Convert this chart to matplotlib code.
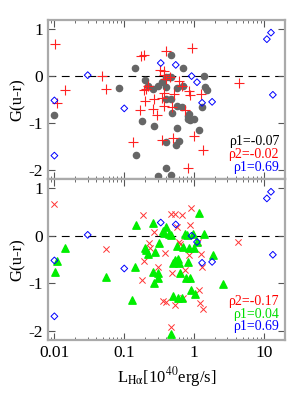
import numpy as np
import matplotlib
matplotlib.use('Agg')
import matplotlib.pyplot as plt

plt.rcParams['font.family'] = ['Liberation Serif', 'DejaVu Serif']
plt.rcParams['mathtext.fontset'] = 'stix'

# blue diamonds (same sample in both panels)
blue_x = [0.01, 0.01, 0.030, 0.10, 0.333, 0.546, 0.92, 1.10, 1.30, 1.81, 11.0, 12.6, 13.4]
blue_y = [-0.52, -1.70, 0.02, -0.69, 0.28, 0.24, 0.0, -0.13, -0.57, -0.55, 0.79, 0.93, -0.40]

# gray dots, top panel
gray_x = [0.01, 0.085, 0.143, 0.178, 0.195, 0.148, 0.217, 0.262, 0.267, 0.309, 0.309,
          0.352, 0.393, 0.393, 0.40, 0.39, 0.40, 0.43, 0.468, 0.468, 0.468, 0.468, 0.49,
          0.546, 0.565, 0.565, 0.565, 0.60, 0.665, 0.69, 0.70, 0.81, 0.83, 0.86, 0.85,
          1.01, 1.17, 1.28, 1.37, 1.43, 1.54]
gray_y = [-0.84, -0.26, 0.18, -0.96, -0.09, -1.68, -0.21, -0.28, -1.06, -0.21, -2.13,
          -0.13, -0.23, -0.48, -0.01, -1.96, -1.41, -0.01, 0.45, -0.02, -0.49, -2.12, -0.79,
          -1.48, -1.11, -0.26, -0.63, -1.39, -0.65, 0.18, -0.22, -0.86, -0.92, -0.94, -0.82,
          -0.91, -1.16, -0.66, 0.01, -0.23, -0.29]

# red plus, top panel
plus_x = [0.0102, 0.011, 0.0142, 0.048, 0.054, 0.132, 0.169, 0.172, 0.193, 0.195, 0.193,
          0.208, 0.217, 0.256, 0.27, 0.299, 0.326, 0.352, 0.352, 0.37, 0.37, 0.39, 0.40,
          0.37, 0.37, 0.45, 0.49, 0.506, 0.52, 0.60, 0.66, 0.73, 0.81, 0.84, 0.86, 0.93,
          1.01, 1.25, 1.36, 4.46]
plus_y = [0.68, -0.58, -0.29, 0.0, -0.28, -1.41, -0.72, 0.43, 0.45, -0.53, -0.29,
          -0.28, -0.22, -0.70, -0.48, -0.84, 0.13, -1.37, -0.47, 0.11, 0.03, -0.06, 0.54,
          -0.63, -0.36, -0.02, -0.65, -1.33, -0.38, -0.10, -0.21, -0.72, -1.96, -0.31, -0.40, 0.60,
          -1.27, -0.38, -1.57, -0.15]

# red crosses, bottom panel
cross_x = [0.01, 0.054, 0.187, 0.193, 0.18, 0.228, 0.237, 0.267, 0.30, 0.38, 0.355, 0.40,
           0.468, 0.53, 0.46, 0.49, 0.53, 0.565, 0.61, 0.63, 0.67, 0.70, 0.75, 0.86, 0.85,
           0.91, 1.13, 1.17, 1.2, 1.25, 1.30, 1.36, 4.3]
cross_y = [0.67, -0.28, 0.44, -0.53, -0.94, -0.15, -0.26, 0.09, -0.65, -0.37, -1.37, -1.39,
           0.46, 0.46, -1.92, -0.79, -1.46, 0.18, -0.12, -0.17, 0.44, -1.32, -0.72, 0.23, -0.40,
           0.58, -0.14, -1.14, -1.42, -0.38, -0.66, -1.55, -0.14]

# green triangles, bottom panel
tri_x = [0.0102, 0.011, 0.0142, 0.055, 0.13, 0.143, 0.145, 0.195, 0.205, 0.22, 0.262,
         0.262, 0.267, 0.28, 0.30, 0.30, 0.31, 0.36, 0.37, 0.40, 0.43, 0.468, 0.506, 0.50,
         0.53, 0.565, 0.58, 0.59, 0.61, 0.63, 0.665, 0.69, 0.73, 0.76, 0.78, 0.81, 0.84,
         0.86, 0.89, 0.95, 1.01, 1.03, 1.10, 1.17, 1.37, 1.89, 2.6, 0.46]
tri_y = [-0.77, -0.53, -0.26, -0.86, -1.35, -0.66, 0.23, -0.26, -0.30, -0.38, 0.28,
         -0.77, -1.0, -0.35, -0.89, -0.79, -0.15, 0.11, 0.07, 0.18, 0.04, 0.01, -1.27, -0.58,
         -0.52, -0.21, -0.49, -1.32, -0.58, -0.79, -1.32, -0.23, 0.04, -0.89, 0.02, -0.56, -0.26,
         -0.89, -1.14, 0.04, -0.26, -1.23, -0.14, 0.49, 0.04, -0.40, -1.02, -2.07]

top_labels = ['ρ1=-0.07', 'ρ2=-0.02', 'ρ1=0.69']
top_colors = ['black', 'red', 'blue']
bot_labels = ['ρ2=-0.17', 'ρ1=0.04', 'ρ1=0.69']
bot_colors = ['red', '#00dd00', 'blue']

fig = plt.figure(figsize=(3, 4), dpi=100)
ax1 = fig.add_axes([0.16, 0.5525, 0.79, 0.3975])
ax2 = fig.add_axes([0.16, 0.15, 0.79, 0.4025])


def style(ax):
    ax.set_xscale('log')
    ax.set_xlim(0.0081, 20)
    ax.set_ylim(-2.2, 1.2)
    ax.set_yticks([-2, -1, 0, 1])
    ax.set_yticklabels(['-2', '-1', '0', '1'])
    ax.axhline(0, color='black', ls=(0, (7, 5)), lw=0.8, zorder=1)
    for s in ax.spines.values():
        s.set_color('#aaaaaa')
        s.set_linewidth(1.6)
    ax.tick_params(which='both', direction='in', top=True, right=True, color='#555555',
                   labelsize=12.5)
    ax.tick_params(which='major', length=5, width=0.8)
    ax.tick_params(which='minor', length=2.5, width=0.6)
    ax.set_ylabel('G(u-r)', fontsize=12, labelpad=2)


def legend_text(ax, labels, colors, y0, dy):
    for i, (t, c) in enumerate(zip(labels, colors)):
        ax.text(0.975, y0 - i * dy, t, color=c, fontsize=10, ha='right', va='center',
                transform=ax.transAxes)


style(ax1)
ax1.scatter(gray_x, gray_y, s=20, color='#666666', zorder=3)
ax1.scatter(plus_x, plus_y, s=45, marker='+', color='#ff2222', linewidths=0.8, zorder=4)
ax1.scatter(blue_x, blue_y, s=12, marker='D', facecolors='none', edgecolors='blue',
            linewidths=0.7, zorder=5)
ax1.tick_params(labelbottom=False)
legend_text(ax1, top_labels, top_colors, 0.235, 0.08)

style(ax2)
ax2.scatter(cross_x, cross_y, s=20, marker='x', color='#ff3333', linewidths=0.7, zorder=3)
ax2.scatter(tri_x, tri_y, s=28, marker='^', color='#00ee00', zorder=4)
ax2.scatter(blue_x, blue_y, s=12, marker='D', facecolors='none', edgecolors='blue',
            linewidths=0.7, zorder=5)
ax2.set_xticks([0.01, 0.1, 1, 10])
ax2.set_xticklabels(['0.01', '0.1', '1', '10'])
ax2.set_xlabel(r'L$_{\mathrm{H\alpha}}$[10$^{40}$erg/s]', fontsize=12, labelpad=3)
legend_text(ax2, bot_labels, bot_colors, 0.24, 0.079)

fig.savefig('out.png', dpi=100)
